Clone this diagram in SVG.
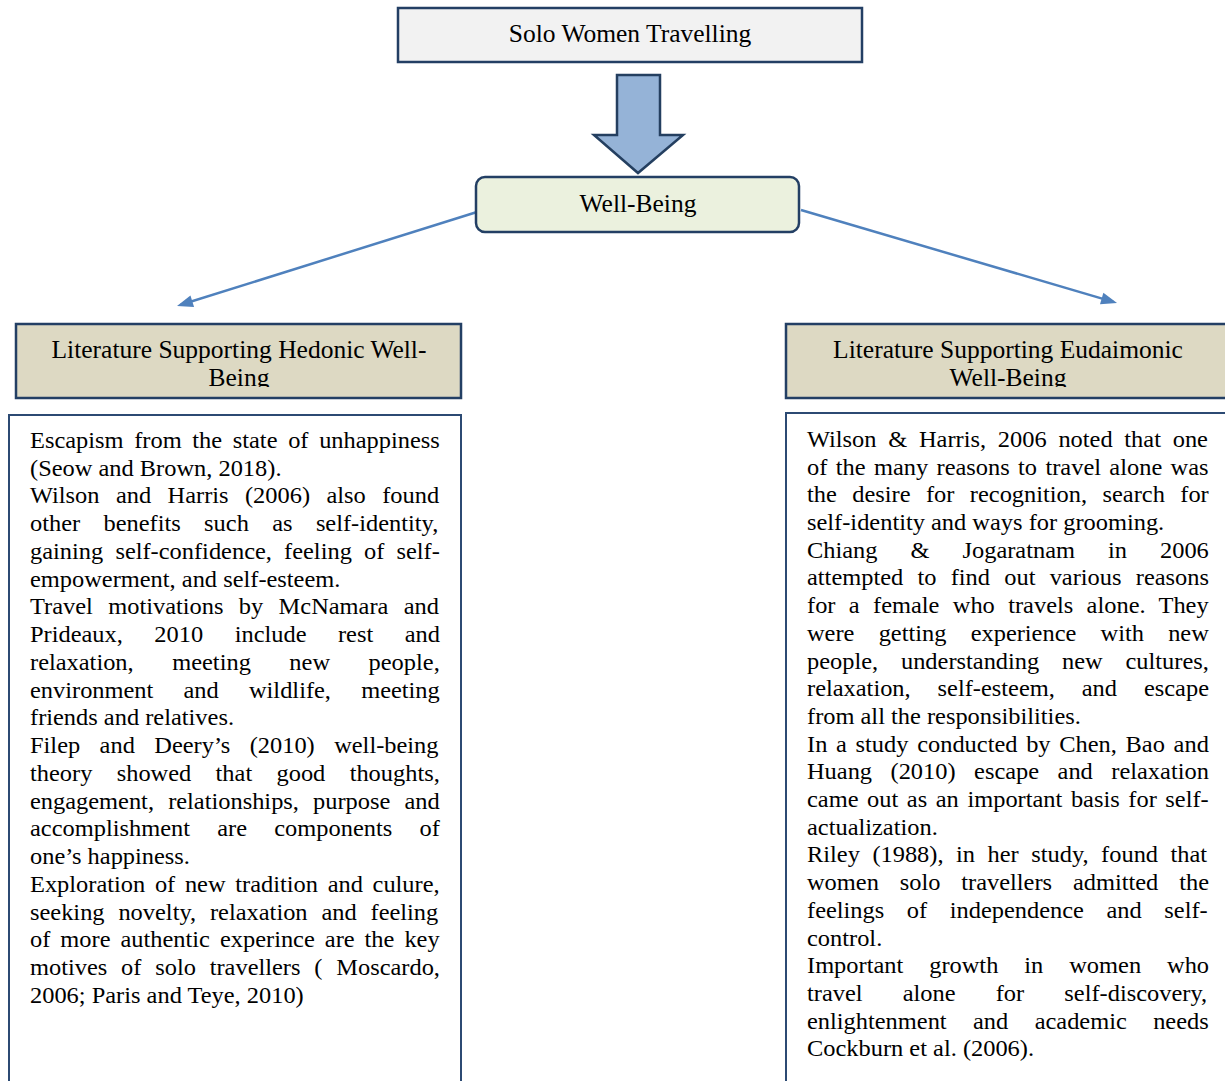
<svg xmlns="http://www.w3.org/2000/svg" width="1225" height="1081" viewBox="0 0 1225 1081">
<style>
text{font-family:'Liberation Serif','Times New Roman',serif;fill:#000}
.t{font-size:25.5px}
.b{font-size:22.5px}
.box{stroke:#233f64;stroke-width:2.5}
.conn{stroke:#4f81bd;stroke-width:2.5;fill:none}
</style>
<defs>
<marker id="ah" markerUnits="userSpaceOnUse" markerWidth="16" markerHeight="12" refX="12" refY="6" orient="auto" overflow="visible">
<path d="M0,0 L16,6 L0,12 z" fill="#4f81bd"/>
</marker>
<clipPath id="cl"><rect x="16" y="324" width="445" height="63"/></clipPath>
<clipPath id="cr"><rect x="785" y="324" width="445" height="63"/></clipPath>
</defs>

<g id="connectors">
<line class="conn" x1="477" y1="212" x2="180.8" y2="304.8" marker-end="url(#ah)"/>
<line class="conn" x1="801" y1="210" x2="1113.2" y2="301.9" marker-end="url(#ah)"/>
<path d="M617,75 H660 V135 H683 L638,173 L594,135 H617 Z" fill="#95b3d7" stroke="#243f60" stroke-width="2.5"/>
</g>

<g id="solo">
<rect class="box" x="398" y="8" width="464" height="54" fill="#f2f2f2"/>
<text class="t" x="630" y="42" text-anchor="middle">Solo Women Travelling</text>
</g>

<g id="wellbeing">
<rect class="box" x="476" y="177" width="323" height="55" rx="9" fill="#ebf1de"/>
<text class="t" x="638" y="212" text-anchor="middle">Well-Being</text>
</g>

<g id="hedonic-header">
<rect class="box" x="16" y="324" width="445" height="74" fill="#ddd9c3"/>
<g clip-path="url(#cl)">
<text class="t" x="239" y="358" text-anchor="middle">Literature Supporting Hedonic Well-</text>
<text class="t" x="239" y="386" text-anchor="middle">Being</text>
</g>
</g>

<g id="eudaimonic-header">
<rect class="box" x="786" y="324" width="445" height="74" fill="#ddd9c3"/>
<g clip-path="url(#cr)">
<text class="t" x="1008" y="358" text-anchor="middle">Literature Supporting Eudaimonic</text>
<text class="t" x="1008" y="386" text-anchor="middle">Well-Being</text>
</g>
</g>

<g id="hedonic-text">
<rect x="9" y="415" width="452" height="680" fill="#fff" stroke="#2c4a73" stroke-width="2"/>
<g transform="matrix(1.085 0 0 1 30 0)">
<text class="b" x="0" y="448" word-spacing="4.2">Escapism from the state of unhappiness</text>
<text class="b" x="0" y="475.75">(Seow and Brown, 2018).</text>
<text class="b" x="0" y="503.5" word-spacing="9.5">Wilson and Harris (2006) also found</text>
<text class="b" x="0" y="531.25" word-spacing="15.9">other benefits such as self-identity,</text>
<text class="b" x="0" y="559" word-spacing="5.6">gaining self-confidence, feeling of self-</text>
<text class="b" x="0" y="586.75">empowerment, and self-esteem.</text>
<text class="b" x="0" y="614.5" word-spacing="8.55">Travel motivations by McNamara and</text>
<text class="b" x="0" y="642.25" word-spacing="23.4">Prideaux, 2010 include rest and</text>
<text class="b" x="0" y="670" word-spacing="29.9">relaxation, meeting new people,</text>
<text class="b" x="0" y="697.75" word-spacing="22.2">environment and wildlife, meeting</text>
<text class="b" x="0" y="725.5">friends and relatives.</text>
<text class="b" x="0" y="753.25" word-spacing="12.3">Filep and Deery’s (2010) well-being</text>
<text class="b" x="0" y="781" word-spacing="16.8">theory showed that good thoughts,</text>
<text class="b" x="0" y="808.75" word-spacing="7.4">engagement, relationships, purpose and</text>
<text class="b" x="0" y="836.5" word-spacing="19.5">accomplishment are components of</text>
<text class="b" x="0" y="864.25">one’s happiness.</text>
<text class="b" x="0" y="892" word-spacing="3.3">Exploration of new tradition and culure,</text>
<text class="b" x="0" y="919.75" word-spacing="7.15">seeking novelty, relaxation and feeling</text>
<text class="b" x="0" y="947.5" word-spacing="3.6">of more authentic experince are the key</text>
<text class="b" x="0" y="975.25" word-spacing="7.1">motives of solo travellers ( Moscardo,</text>
<text class="b" x="0" y="1003">2006; Paris and Teye, 2010)</text>
</g>
</g>

<g id="eudaimonic-text">
<rect x="786" y="413" width="450" height="680" fill="#fff" stroke="#2c4a73" stroke-width="2"/>
<g transform="matrix(1.085 0 0 1 807 0)">
<text class="b" x="0" y="447" word-spacing="5.2">Wilson &amp; Harris, 2006 noted that one</text>
<text class="b" x="0" y="474.7" word-spacing="2.1">of the many reasons to travel alone was</text>
<text class="b" x="0" y="502.4" word-spacing="8.6">the desire for recognition, search for</text>
<text class="b" x="0" y="530.1">self-identity and ways for grooming.</text>
<text class="b" x="0" y="557.8" word-spacing="24.8">Chiang &amp; Jogaratnam in 2006</text>
<text class="b" x="0" y="585.5" word-spacing="7.5">attempted to find out various reasons</text>
<text class="b" x="0" y="613.2" word-spacing="6.7">for a female who travels alone. They</text>
<text class="b" x="0" y="640.9" word-spacing="16.7">were getting experience with new</text>
<text class="b" x="0" y="668.6" word-spacing="15.4">people, understanding new cultures,</text>
<text class="b" x="0" y="696.3" word-spacing="19.2">relaxation, self-esteem, and escape</text>
<text class="b" x="0" y="724">from all the responsibilities.</text>
<text class="b" x="0" y="751.7" word-spacing="2.4">In a study conducted by Chen, Bao and</text>
<text class="b" x="0" y="779.4" word-spacing="11.4">Huang (2010) escape and relaxation</text>
<text class="b" x="0" y="807.1" word-spacing="2.3">came out as an important basis for self-</text>
<text class="b" x="0" y="834.8">actualization.</text>
<text class="b" x="0" y="862.5" word-spacing="5.9">Riley (1988), in her study, found that</text>
<text class="b" x="0" y="890.2" word-spacing="13.6">women solo travellers admitted the</text>
<text class="b" x="0" y="917.9" word-spacing="15.2">feelings of independence and self-</text>
<text class="b" x="0" y="945.6">control.</text>
<text class="b" x="0" y="973.3" word-spacing="18.3">Important growth in women who</text>
<text class="b" x="0" y="1001" word-spacing="31.4">travel alone for self-discovery,</text>
<text class="b" x="0" y="1028.7" word-spacing="18.7">enlightenment and academic needs</text>
<text class="b" x="0" y="1056.4">Cockburn et al. (2006).</text>
</g>
</g>
</svg>
